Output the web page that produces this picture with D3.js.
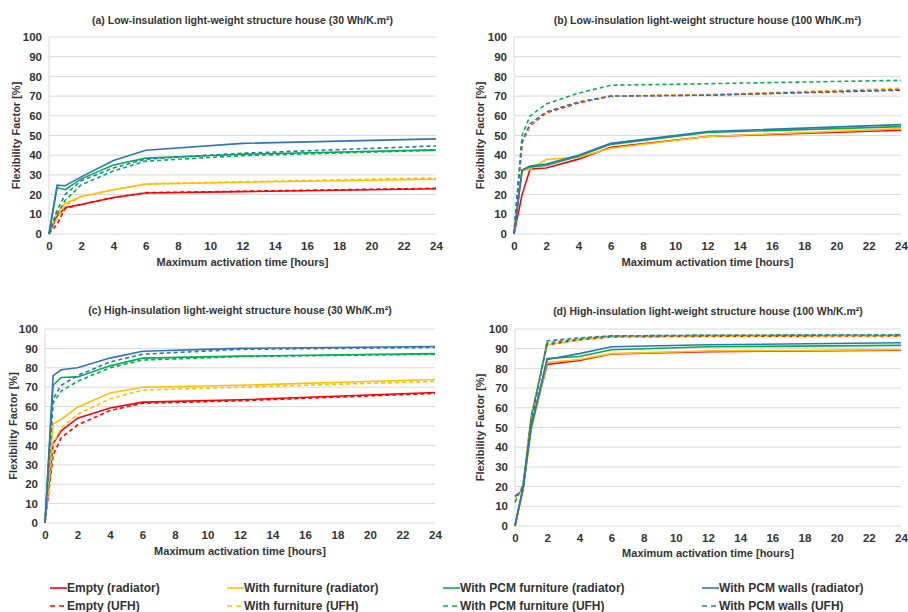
<!DOCTYPE html>
<html><head><meta charset="utf-8">
<script src="https://cdn.jsdelivr.net/npm/d3@7"></script>
<style>
body{margin:0;background:#fff;}
text{font-family:"Liberation Sans",Arial,sans-serif;font-weight:bold;fill:#333;}
</style></head>
<body><svg id="c" width="908" height="612"></svg>
<script>
const hours = [0, 0.5, 1, 2, 4, 6, 12, 24];
const xTicks = [0,2,4,6,8,10,12,14,16,18,20,22,24];
const yTicks = [0,10,20,30,40,50,60,70,80,90,100];
const seriesNames = ["Empty (radiator)","Empty (UFH)","With furniture (radiator)","With furniture (UFH)",
  "With PCM furniture (radiator)","With PCM furniture (UFH)","With PCM walls (radiator)","With PCM walls (UFH)"];
const seriesColors = ["#ff0000","#ff0000","#ffc000","#ffc000","#00b050","#00b050","#2e75b6","#2e75b6"];
const seriesDashed = [false,true,false,true,false,true,false,true];
const panelTitles = [
  "(a) Low-insulation light-weight structure house (30 Wh/K.m²)",
  "(b) Low-insulation light-weight structure house (100 Wh/K.m²)",
  "(c) High-insulation light-weight structure house (30 Wh/K.m²)",
  "(d) High-insulation light-weight structure house (100 Wh/K.m²)"];
const xTitle = "Maximum activation time [hours]";
const yTitle = "Flexibility Factor [%]";

// Panel (a)
const a_emptyRad  = [0, 9, 13.5, 15, 18.5, 20.8, 21.5, 23];
const a_emptyUfh  = [0, 5, 13, 15, 18.5, 21, 21.7, 23.2];
const a_furnRad   = [0, 11, 15.5, 19, 22.5, 25.3, 26.3, 27.8];
const a_furnUfh   = [0, 8, 14.5, 19, 22.5, 25.5, 26.5, 28.5];
const a_pcmfRad   = [0, 23.5, 22.5, 28, 35, 38.5, 40.5, 42.7];
const a_pcmfUfh   = [0, 10, 17, 25, 32, 37, 39.8, 42.5];
const a_pcmwRad   = [0, 24.8, 24.5, 29, 37.3, 42.5, 46, 48.3];
const a_pcmwUfh   = [0, 12, 20, 27, 33.5, 38, 41, 44.7];
// Panel (b)
const b_emptyRad  = [0, 20, 33, 33.5, 38, 44, 49.5, 52.7];
const b_emptyUfh  = [0, 46, 55, 61.5, 66.5, 70, 70.5, 73];
const b_furnRad   = [0, 32, 33, 37.8, 39, 43.5, 49.5, 53.5];
const b_furnUfh   = [0, 46, 55.5, 62, 67, 70, 70.8, 74];
const b_pcmfRad   = [0, 32.5, 34, 34.8, 39.5, 45.5, 51.5, 54.5];
const b_pcmfUfh   = [0, 50, 60, 66, 71.5, 75.5, 76.3, 78];
const b_pcmwRad   = [0, 32.5, 34.5, 35.5, 40, 46, 52, 55.5];
const b_pcmwUfh   = [0, 47, 56, 62, 67, 70, 70.5, 73.3];
// Panel (c)
const c_emptyRad  = [0, 41, 47.5, 54, 59.3, 62.3, 63.5, 67.3];
const c_emptyUfh  = [0, 35, 44, 50.5, 58, 61.7, 63, 66.8];
const c_furnRad   = [0, 51, 53.5, 59.7, 67, 70, 71, 74];
const c_furnUfh   = [0, 41, 49, 56, 64, 68.5, 70, 73];
const c_pcmfRad   = [0, 71, 75, 75.3, 81, 85, 86, 87.3];
const c_pcmfUfh   = [0, 62, 68, 73, 80, 84, 85.8, 87];
const c_pcmwRad   = [0, 76, 79, 80, 85, 88.5, 90, 91];
const c_pcmwUfh   = [0, 64, 71, 76, 83, 87, 89.5, 90.5];
// Panel (d)
const d_emptyRad  = [0, 19, 50, 82, 84, 87.3, 88.5, 89.3];
const d_emptyUfh  = [15, 19, 55, 92, 94.5, 96, 96.3, 96.5];
const d_furnRad   = [0, 18, 48, 83, 84.5, 87.5, 88.8, 89.5];
const d_furnUfh   = [13, 20, 56, 92, 94.5, 96, 96.3, 96.5];
const d_pcmfRad   = [0, 19, 50, 85, 86, 89.5, 91, 91.7];
const d_pcmfUfh   = [12, 21, 55, 93, 95, 96.5, 96.8, 97];
const d_pcmwRad   = [0, 20, 50, 84.5, 87.5, 91, 92, 93];
const d_pcmwUfh   = [15, 18, 52, 94, 95.5, 96.5, 96.8, 97];

const panelData = [
  [a_emptyRad,a_emptyUfh,a_furnRad,a_furnUfh,a_pcmfRad,a_pcmfUfh,a_pcmwRad,a_pcmwUfh],
  [b_emptyRad,b_emptyUfh,b_furnRad,b_furnUfh,b_pcmfRad,b_pcmfUfh,b_pcmwRad,b_pcmwUfh],
  [c_emptyRad,c_emptyUfh,c_furnRad,c_furnUfh,c_pcmfRad,c_pcmfUfh,c_pcmwRad,c_pcmwUfh],
  [d_emptyRad,d_emptyUfh,d_furnRad,d_furnUfh,d_pcmfRad,d_pcmfUfh,d_pcmwRad,d_pcmwUfh]];

const layouts = [
  {l:49,r:436,t:37,b:234,titleY:24,xlabY:266,ylabX:20},
  {l:514,r:901,t:37,b:234,titleY:24,xlabY:266,ylabX:484},
  {l:45,r:435,t:329,b:523,titleY:314,xlabY:555,ylabX:17},
  {l:515,r:901,t:329,b:526,titleY:315,xlabY:557,ylabX:484}];

const svg = d3.select("#c");

layouts.forEach((L, pi) => {
  const x = d3.scaleLinear().domain([0,24]).range([L.l, L.r]);
  const y = d3.scaleLinear().domain([0,100]).range([L.b, L.t]);
  const g = svg.append("g");
  // gridlines
  g.append("g").selectAll("line").data(yTicks).join("line")
    .attr("x1", L.l).attr("x2", L.r).attr("y1", d=>y(d)).attr("y2", d=>y(d))
    .attr("stroke", "#d9d9d9").attr("stroke-width", 1);
  // left axis line
  g.append("line").attr("x1", L.l).attr("x2", L.l).attr("y1", y(100)).attr("y2", y(0))
    .attr("stroke", "#d9d9d9");
  // y axis labels
  const ya = d3.axisLeft(y).tickValues(yTicks).tickSize(0).tickPadding(7);
  const yg = g.append("g").attr("transform", `translate(${L.l},0)`).call(ya);
  yg.select(".domain").remove();
  yg.selectAll("text").attr("font-size", 11.5).attr("fill", "#333")
    .style("font-family", '"Liberation Sans",Arial,sans-serif').style("font-weight","bold");
  const xa = d3.axisBottom(x).tickValues(xTicks).tickSize(0).tickPadding(8);
  const xg = g.append("g").attr("transform", `translate(0,${y(0)})`).call(xa);
  xg.select(".domain").remove();
  xg.selectAll("text").attr("font-size", 11.5).attr("fill", "#333")
    .style("font-family", '"Liberation Sans",Arial,sans-serif').style("font-weight","bold");
  // titles
  g.append("text").attr("x", (L.l+L.r)/2).attr("y", L.titleY).attr("text-anchor","middle")
    .attr("font-size", 10.5).text(panelTitles[pi]);
  g.append("text").attr("x", (L.l+L.r)/2).attr("y", L.xlabY).attr("text-anchor","middle")
    .attr("font-size", 11).text(xTitle);
  g.append("text").attr("transform", `translate(${L.ylabX},${(L.t+L.b)/2}) rotate(-90)`)
    .attr("text-anchor","middle").attr("font-size", 11).text(yTitle);
  // lines
  const line = d3.line().x((d,i)=>x(hours[i])).y(d=>y(d));
  panelData[pi].forEach((vals, si) => {
    g.append("path").datum(vals).attr("d", line).attr("fill","none")
      .attr("stroke", seriesColors[si]).attr("stroke-width", 1.6)
      .attr("stroke-dasharray", seriesDashed[si] ? "4,3" : null);
  });
});

// legend
const legCols = [50, 227, 443, 702];
const legRows = [588, 606];
seriesNames.forEach((name, si) => {
  const col = Math.floor(si/2), row = si%2;
  const lx = legCols[col], ly = legRows[row];
  const g = svg.append("g");
  g.append("line").attr("x1", lx).attr("x2", lx+17).attr("y1", ly).attr("y2", ly)
    .attr("stroke", seriesColors[si]).attr("stroke-width", 1.6)
    .attr("stroke-dasharray", seriesDashed[si] ? "5,4" : null);
  g.append("text").attr("x", lx+17).attr("y", ly).attr("dy","0.35em")
    .attr("font-size", 12).attr("fill","#111").text(name);
});
</script></body></html>
